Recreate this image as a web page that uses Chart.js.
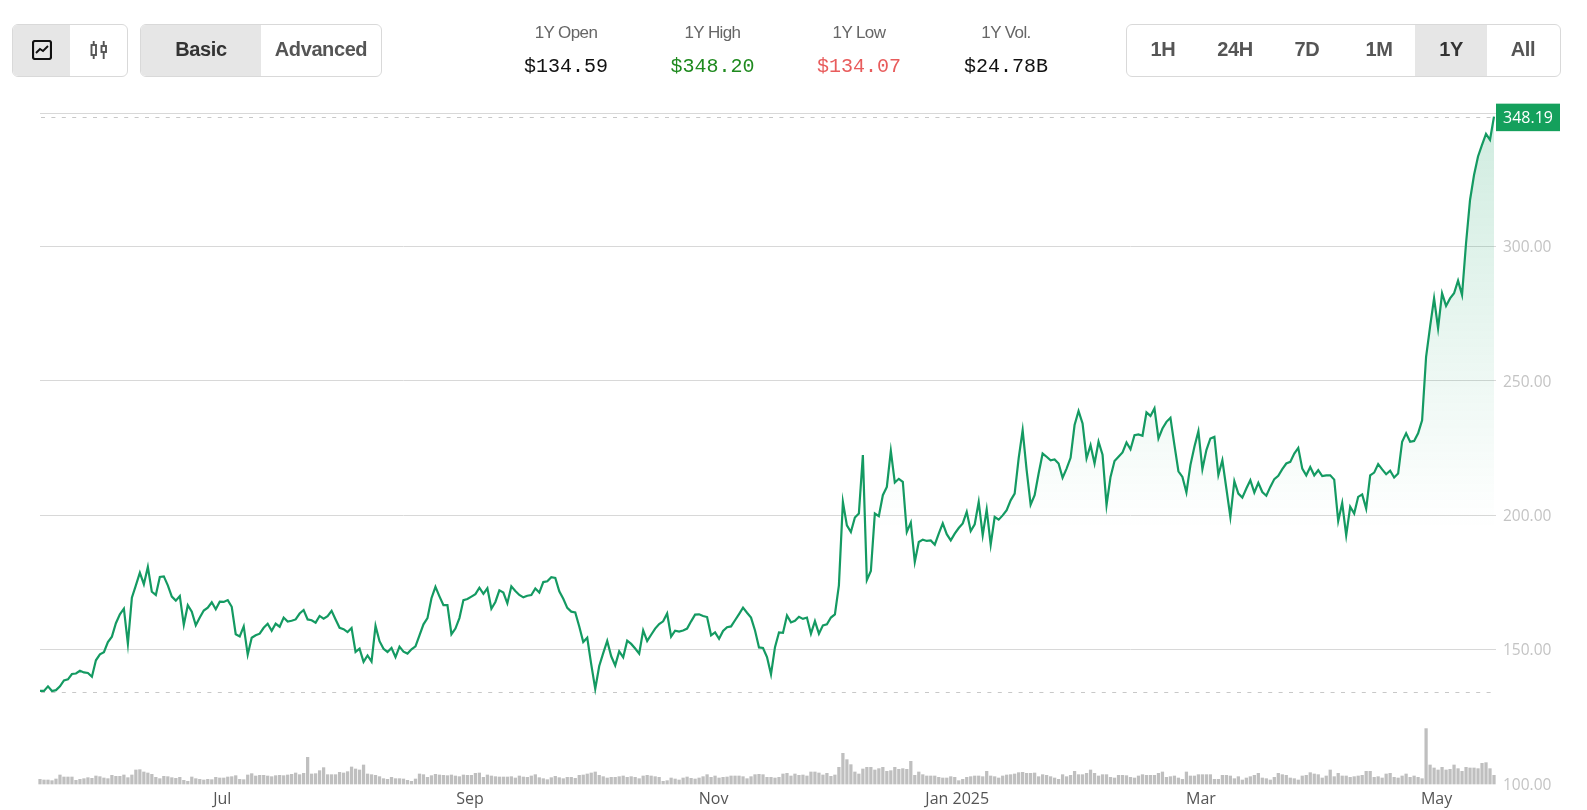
<!DOCTYPE html>
<html>
<head>
<meta charset="utf-8">
<title>1Y price chart</title>
<script src="https://cdn.jsdelivr.net/npm/chart.js@4/dist/chart.umd.min.js"></script>
<style>
  html, body { margin: 0; padding: 0; background: #fff; }
  body { width: 1587px; height: 810px; position: relative; overflow: hidden; font-family: "Liberation Sans", Arial, sans-serif; }
  #priceChart { position: absolute; left: 0; top: 0; }
  .group { position: absolute; top: 24px; height: 51px; border: 1px solid #d9d9d9; border-radius: 6px; display: flex; overflow: hidden; background: #fff; }
  .group div { display: flex; align-items: center; justify-content: center; font-weight: bold; font-size: 20px; letter-spacing: -0.4px; color: #555; padding-bottom: 2px; box-sizing: border-box; }
  .group .on { background: #e6e6e6; color: #333; }
  .stat { position: absolute; width: 140px; text-align: center; }
  .stat .name { position: absolute; top: 23px; width: 100%; font-size: 17px; letter-spacing: -0.6px; color: #666; }
  .stat .val { position: absolute; top: 55px; width: 100%; font-family: "Liberation Mono", monospace; font-size: 20px; color: #111; }
</style>
</head>
<body>
<canvas id="priceChart" width="1587" height="810"></canvas>

<div class="group" style="left:12px;width:114px">
  <div class="on" style="width:57px">
    <svg width="20" height="20" viewBox="0 0 20 20" fill="none" stroke="#111" stroke-width="2.2"><rect x="1" y="1" width="18" height="18" rx="2"/><path d="M4 13l4-4 3 2 5-5" stroke-width="1.9"/></svg>
  </div>
  <div style="width:57px">
    <svg width="18" height="20" viewBox="0 0 18 20" fill="none" stroke="#555" stroke-width="1.9"><rect x="1.5" y="5" width="4.5" height="10"/><path d="M3.7 1v4M3.7 15v4"/><rect x="11.5" y="6" width="4.5" height="6"/><path d="M13.7 1v5M13.7 12v7"/></svg>
  </div>
</div>

<div class="group" style="left:140px;width:240px">
  <div class="on" style="width:120px">Basic</div>
  <div style="width:120px">Advanced</div>
</div>

<div id="stats"></div>
<div class="group" id="ranges" style="left:1126px;width:433px"></div>

<script>
// top row
const statNames = ["1Y Open", "1Y High", "1Y Low", "1Y Vol."];
const statValues = ["$134.59", "$348.20", "$134.07", "$24.78B"];
const statColors = ["#111", "#1f8a1f", "#e85c5c", "#111"];
const rangeNames = ["1H", "24H", "7D", "1M", "1Y", "All"];
const activeRange = "1Y";

// month labels and the day each one sits on
const monthNames = ["Jul", "Sep", "Nov", "Jan 2025", "Mar", "May"];
const monthDays = [46, 108, 169, 230, 291, 350];

const yTickValues = [100, 150, 200, 250, 300];
const yTop = 349.55;
const highValue = 348.2;
const lowValue = 134.07;

// daily price
const priceValues = [
  134.6,134.6,136.3,134.6,134.9,136.3,138.5,138.9,140.9,141.1,
  142.1,141.5,141.3,139.9,146.0,148.2,149.0,152.8,154.8,159.8,
  163.1,165.2,152.2,169.3,173.9,178.6,174.3,180.7,171.5,170.3,
  177.0,177.2,173.9,169.7,168.2,169.9,159.2,166.5,164.1,159.0,
  161.9,164.5,165.6,167.6,165.0,167.8,167.7,168.4,165.9,155.7,
  154.9,158.6,148.1,154.4,155.3,155.9,158.1,159.6,157.0,159.6,
  158.5,161.9,160.4,160.7,161.2,163.4,164.7,161.2,160.9,160.0,
  162.5,161.5,162.4,164.4,161.2,158.1,157.6,156.5,158.0,149.1,
  150.3,145.4,147.8,145.5,158.8,153.1,150.3,149.1,150.6,147.2,
  151.1,149.2,148.5,150.1,151.2,155.3,159.4,161.7,169.1,173.3,
  169.8,166.5,166.5,155.7,157.8,161.7,168.4,168.8,169.7,170.6,
  173.0,170.7,172.8,165.2,167.7,
  172.0,171.2,167.2,173.5,171.8,
  170.3,169.4,170.0,170.3,172.7,171.2,175.1,175.4,176.9,176.6,
  171.7,168.9,165.5,164.1,163.8,158.6,152.8,154.4,144.5,135.4,
  143.9,148.7,153.2,147.5,144.1,149.3,147.1,153.3,152.1,150.4,
  148.5,157.1,153.2,155.5,157.8,159.5,160.5,163.4,154.8,157.0,
  156.7,157.1,157.8,160.5,163.0,163.1,162.5,162.1,155.3,156.4,
  154.0,156.9,158.3,158.6,160.9,163.2,165.6,163.7,161.9,157.1,
  150.8,150.6,147.2,140.8,150.9,156.4,156.2,162.7,160.1,160.7,
  162.2,161.4,161.9,155.9,160.6,155.9,159.0,159.4,161.9,163.1,
  173.9,
  204.9,196.2,193.7,199.1,200.6,222.3,175.8,179.2,200.6,
  199.6,207.4,210.5,223.9,212.1,213.5,212.4,193.7,197.2,182.6,
  190.0,190.9,190.4,190.6,189.0,193.1,196.9,192.9,190.6,193.1,
  195.2,196.9,201.2,194.1,196.6,204.9,192.5,202.1,189.0,199.3,
  198.3,
  199.9,201.8,205.5,208.0,221.1,231.6,216.7,203.9,207.4,
  215.5,222.9,221.7,220.4,220.7,219.2,213.9,217.3,221.3,233.5,
  238.7,234.1,221.1,226.0,219.2,227.3,222.5,203.7,214.2,220.1,
  221.7,223.3,227.0,224.5,229.7,230.0,229.5,238.2,236.9,239.7,
  228.5,232.2,234.7,236.2,226.0,216.3,214.2,208.4,218.6,225.4,
  231.2,217.1,224.2,228.5,229.1,214.9,220.4,209.9,199.3,212.6,
  208.0,
  206.5,209.9,213.0,208.4,212.0,208.6,207.2,210.5,213.4,
  214.6,217.1,219.2,219.8,222.9,225.0,217.3,214.8,217.9,214.8,
  216.7,214.5,214.8,214.8,213.2,197.8,204.5,192.5,203.1,200.6,
  206.8,207.7,202.4,214.8,215.8,219.0,217.0,215.2,216.5,214.0,
  215.5,227.3,230.4,227.3,227.6,230.4,235.3,258.9,270.1,280.6,
  269.5,282.5,277.8,280.6,282.5,287.2,281.9,301.1,317.2,326.5,
  333.4,337.7,341.8,339.6,348.19
];

// daily volume, relative units, no scale is shown for it
const volumeValues = [
  14,12,12,10,15,27,21,21,21,11,
  14,16,19,17,24,22,18,16,26,23,
  23,27,19,27,42,43,36,33,29,20,
  16,23,22,19,17,20,11,8,21,16,
  14,12,14,13,20,18,18,21,22,25,
  14,13,27,31,24,26,26,24,22,25,
  26,25,27,29,33,28,32,80,30,31,
  40,49,28,28,28,35,33,37,51,45,
  42,57,30,28,26,22,16,14,20,16,
  16,15,11,8,15,30,28,20,25,29,
  27,26,25,27,24,22,27,26,26,32,
  33,20,27,24,22,
  21,21,21,22,18,24,21,20,24,28,
  19,16,13,19,23,19,16,20,20,17,
  26,27,30,33,36,26,22,18,20,20,
  22,24,20,22,20,16,24,26,24,22,
  20,8,10,18,15,12,18,21,17,15,
  18,22,28,20,24,18,20,21,24,24,
  24,22,16,22,28,29,28,20,20,18,
  20,30,32,24,30,26,27,24,
  36,36,33,27,32,23,27,
  50,92,73,58,36,30,45,50,50,42,46,50,38,40,50,44,46,44,68,26,
  36,28,24,24,24,20,18,18,22,20,10,14,20,22,24,24,22,38,24,22,18,
  24,27,28,30,34,35,32,32,33,22,
  28,26,22,18,14,28,22,26,38,28,
  28,32,42,32,24,28,28,20,18,26,
  26,25,20,18,24,28,26,26,26,32,
  36,20,22,24,18,14,36,24,24,28,
  28,28,28,14,14,26,26,24,16,22,
  12,18,22,26,32,18,16,12,20,32,
  28,26,18,16,12,24,26,34,30,28,
  18,24,42,22,32,24,24,20,22,24,
  26,38,38,20,22,18,30,32,20,18,
  24,30,20,24,20,16,
  166,
  57,48,42,50,42,44,57,46,38,50,48,48,46,62,64,46,26
];
const volumeAxisMax = 2011;

// stats
const statCenters = [566, 712.5, 859, 1006];
document.getElementById("stats").innerHTML = statNames
  .map((name, i) => `<div class="stat" style="left:${statCenters[i] - 70}px">
    <div class="name">${name}</div>
    <div class="val" style="color:${statColors[i]}">${statValues[i]}</div>
  </div>`)
  .join("");

document.getElementById("ranges").innerHTML = rangeNames
  .map((name) => `<div style="width:72px" class="${name === activeRange ? "on" : ""}">${name}</div>`)
  .join("");

const dayLabels = priceValues.map((v, i) => {
  const m = monthDays.indexOf(i);
  return m >= 0 ? monthNames[m] : "";
});

// top border, high and low dashes, last price tag
const priceMarks = {
  id: "priceMarks",
  beforeDatasetsDraw(chart) {
    const { ctx, chartArea, scales } = chart;
    ctx.save();
    ctx.strokeStyle = "#d8d8d8";
    ctx.lineWidth = 1;
    ctx.beginPath();
    ctx.moveTo(chartArea.left, Math.round(scales.y.getPixelForValue(yTop)) + 0.5);
    ctx.lineTo(chartArea.right + 2, Math.round(scales.y.getPixelForValue(yTop)) + 0.5);
    ctx.stroke();
    ctx.strokeStyle = "#c8c8c8";
    ctx.setLineDash([4, 6.4]);
    [highValue, lowValue].forEach((v) => {
      const y = Math.round(scales.y.getPixelForValue(v)) + 0.5;
      ctx.beginPath();
      ctx.moveTo(chartArea.left + 1, y);
      ctx.lineTo(chartArea.right - 2, y);
      ctx.stroke();
    });
    ctx.restore();
  },
  afterDraw(chart) {
    const { ctx, chartArea, scales } = chart;
    const last = priceValues[priceValues.length - 1];
    const y = scales.y.getPixelForValue(last);
    ctx.save();
    ctx.fillStyle = "#14a05c";
    ctx.fillRect(chartArea.right + 2, y - 13, 64, 27.5);
    ctx.fillStyle = "#fff";
    ctx.font = "16px 'Open Sans'";
    ctx.textAlign = "center";
    ctx.textBaseline = "middle";
    ctx.fillText(last.toFixed(2), chartArea.right + 34, y + 1.5);
    ctx.restore();
  }
};

new Chart(document.getElementById("priceChart"), {
  data: {
    labels: dayLabels,
    datasets: [
      {
        type: "line",
        data: priceValues,
        yAxisID: "y",
        borderColor: "#149a62",
        borderWidth: 2.2,
        borderJoinStyle: "miter",
        pointRadius: 0,
        tension: 0,
        fill: "origin",
        clip: false,
        order: 1,
        backgroundColor: (c) => {
          const { chart } = c;
          if (!chart.chartArea) return "transparent";
          const g = chart.ctx.createLinearGradient(0, chart.scales.y.getPixelForValue(highValue), 0, chart.scales.y.getPixelForValue(195));
          g.addColorStop(0, "rgba(20,160,100,0.2)");
          g.addColorStop(1, "rgba(20,160,100,0)");
          return g;
        }
      },
      {
        type: "bar",
        data: volumeValues,
        yAxisID: "yVol",
        backgroundColor: "#bfbfbf",
        barThickness: 2.6,
        clip: false,
        order: 2
      }
    ]
  },
  options: {
    responsive: false,
    animation: false,
    layout: { padding: { left: 40, top: 113, right: 27, bottom: 0 } },
    plugins: { legend: { display: false }, tooltip: { enabled: false } },
    scales: {
      x: {
        type: "category",
        offset: false,
        grid: { display: false },
        border: { display: false },
        afterFit: (s) => { s.height = 26; },
        ticks: {
          autoSkip: false,
          maxRotation: 0,
          minRotation: 0,
          padding: -2,
          labelOffset: -1.5,
          color: "#555",
          font: { family: "Open Sans", size: 16 }
        }
      },
      y: {
        position: "right",
        min: 100,
        max: yTop,
        afterBuildTicks: (s) => { s.ticks = yTickValues.map((value) => ({ value })); },
        afterFit: (s) => { s.width = 66; },
        border: { display: false },
        grid: {
          color: (c) => (c.tick.value === 100 ? "transparent" : "#d8d8d8"),
          tickLength: 2
        },
        ticks: {
          padding: 7,
          labelOffset: 1.5,
          color: "#c4c4c4",
          font: { family: "Open Sans", size: 15.5 },
          callback: (v) => v.toFixed(2)
        }
      },
      yVol: {
        display: false,
        min: 0,
        max: volumeAxisMax
      }
    }
  },
  plugins: [priceMarks]
});
</script>
</body>
</html>
